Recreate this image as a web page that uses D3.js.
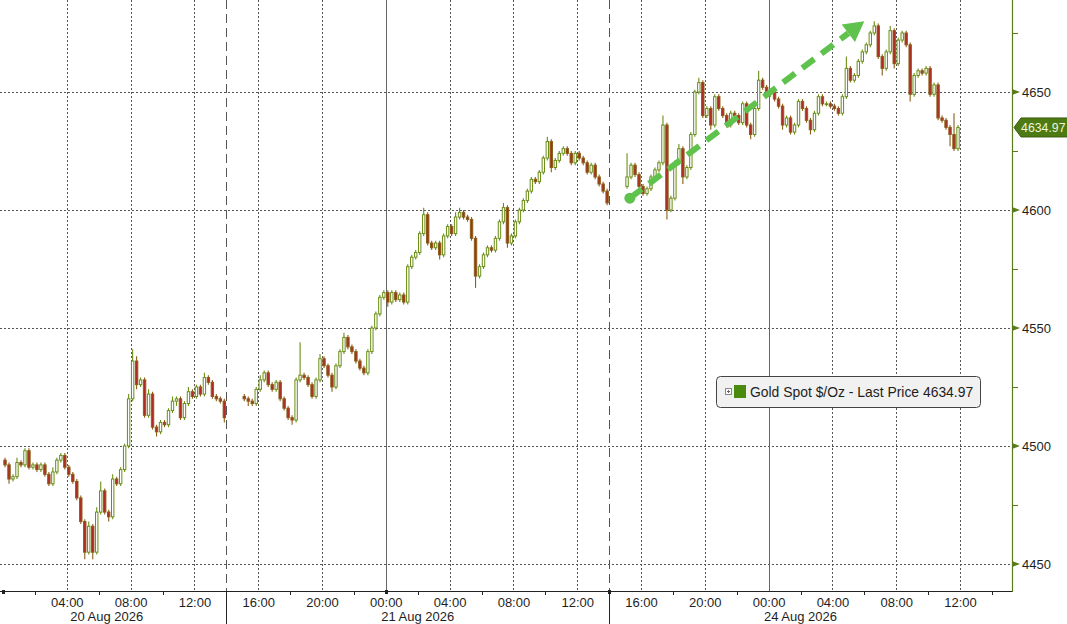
<!DOCTYPE html>
<html><head><meta charset="utf-8">
<script src="https://cdn.jsdelivr.net/npm/d3@7"></script>
<style>html,body{margin:0;padding:0;background:#fff;overflow:hidden}</style>
</head><body><svg id="c" width="1067" height="624"></svg>
<script>
// ---------- DATA ----------
// Session start (hours on the compressed time axis, 0 = 20 Aug 00:00), 15-minute candles
const sessionStartHours = [0, 15, 39];
const sessionFirstOpen = [4494, 4521, 4610];

const s1Close = [4492,4486,4487,4493,4492,4498,4491,4492,4490,4492,
                 4488,4484,4489,4494,4496,4491,4488,4485,4478,4468,
                 4455,4466,4455,4472,4481,4472,4470,4486,4484,4490,
                 4500,4520,4536,4526,4528,4513,4522,4508,4506,4510,
                 4509,4515,4519,4520,4512,4518,4523,4521,4525,4522,
                 4529,4527,4521,4520,4519,4512];
const s1WickUp = [1,1,1,2,1,1,1,1,1,1, 1,1,2,1,1,1,1,1,1,1, 1,2,1,2,4,1,1,2,1,1,
                  1,2,5,2,1,1,2,1,1,1, 1,1,2,1,1,1,2,1,1,1, 2,1,1,1,1,1];
const s1WickDn = [1,2,1,1,1,1,1,1,1,1, 1,1,1,1,1,1,1,1,1,1, 3,1,3,1,1,1,2,1,1,1,
                  1,1,1,2,1,1,1,1,2,1, 1,1,1,2,1,1,1,1,1,1, 1,1,1,1,1,2];

const s2Close = [4520,4519,4518,4524,4528,4531,4526,4524,4527,4520,
                 4516,4512,4511,4528,4530,4529,4526,4521,4528,4537,
                 4534,4530,4525,4534,4540,4546,4542,4540,4536,4533,
                 4531,4540,4550,4556,4563,4565,4561,4565,4562,4564,
                 4561,4576,4580,4582,4590,4598,4586,4584,4586,4581,
                 4589,4593,4590,4597,4599,4597,4596,4588,4572,4576,
                 4581,4584,4583,4588,4595,4601,4586,4589,4595,4600,
                 4604,4608,4613,4612,4616,4622,4629,4618,4621,4624,
                 4626,4624,4620,4624,4622,4620,4616,4619,4614,4611,
                 4608,4603];
const s2WickUp = [1,1,1,1,2,1,1,1,1,1, 1,1,1,1,14,1,1,1,1,2, 1,1,1,1,1,2,1,1,1,1,
                  1,1,1,1,1,1,1,1,1,1, 1,1,1,1,1,3,1,1,1,1, 1,1,1,2,2,1,1,1,1,1,
                  1,1,1,1,1,2,1,1,1,1, 1,1,1,1,1,1,2,1,1,1, 1,1,1,1,1,1,1,1,1,1, 1,1];
const s2WickDn = [1,2,1,1,1,1,1,1,1,1, 1,1,2,1,1,1,1,1,1,1, 1,1,2,1,1,1,1,1,1,1,
                  1,1,1,1,1,1,2,1,1,1, 1,1,1,1,1,1,1,1,1,2, 1,1,1,1,1,1,1,1,5,1,
                  1,1,1,1,1,1,2,1,1,1, 1,1,1,1,1,1,1,2,1,1, 1,1,1,1,1,1,1,1,1,1, 1,1];

const s3Close = [4614,4619,4615,4610,4607,4609,4614,4617,4620,4636,
                 4600,4605,4620,4626,4614,4618,4632,4650,4654,4640,
                 4643,4636,4648,4643,4640,4636,4641,4640,4637,4645,
                 4636,4632,4643,4655,4652,4649,4650,4647,4644,4636,
                 4639,4633,4636,4646,4643,4638,4634,4641,4648,4645,
                 4645,4644,4643,4641,4648,4660,4655,4657,4663,4667,
                 4670,4675,4678,4665,4660,4667,4676,4662,4672,4675,
                 4670,4649,4657,4659,4658,4660,4649,4653,4639,4638,
                 4635,4632,4626,4634.97];
const s3WickUp = [10,1,1,1,1,1,1,1,1,4, 1,1,1,2,1,1,1,1,2,1, 1,1,1,1,1,1,1,1,1,1,
                  1,1,1,4,1,1,1,1,1,1, 1,1,1,1,1,1,1,1,1,1, 1,1,1,1,1,5,1,1,1,1,
                  1,1,2,1,1,1,2,1,1,1, 1,1,1,1,1,1,1,1,1,1, 1,1,9,1];
const s3WickDn = [1,1,1,1,1,1,1,1,1,1, 4,1,1,1,3,1,1,1,1,1, 1,2,1,1,1,1,1,1,1,1,
                  1,2,1,1,1,1,1,1,1,2, 1,1,1,1,1,1,2,1,1,1, 1,1,1,1,1,1,1,1,1,1,
                  1,1,1,1,3,1,1,2,1,1, 1,3,1,1,1,1,1,1,1,1, 1,5,1,1];

const xTickHours  = [4,8,12,16,20,24,28,32,36,40,44,48,52,56,60];
const xTickLabels = ["04:00","08:00","12:00","16:00","20:00","00:00","04:00","08:00","12:00","16:00","20:00","00:00","04:00","08:00","12:00"];
const dayBoundaryHours = [24, 48];
const sessionBreakHours = [14, 38];
const dayStartHours = [0, 24, 38];
const dateLabelHours = [6.5, 26, 50];
const dateLabels = ["20 Aug 2026", "21 Aug 2026", "24 Aug 2026"];
const yTicks = [4450, 4500, 4550, 4600, 4650];
const yMinorTicks = [4475, 4525, 4575, 4625, 4675];
const lastPrice = 4634.97;
const legendLabel = "Gold Spot $/Oz - Last Price 4634.97";
const trendStart = {h: 39.3, v: 4605};
const trendEnd = {h: 54.0, v: 4680};

// ---------- BUILD ----------
const closes = [s1Close, s2Close, s3Close];
const wUps = [s1WickUp, s2WickUp, s3WickUp];
const wDns = [s1WickDn, s2WickDn, s3WickDn];
const candles = [];
closes.forEach((arr, s) => {
  arr.forEach((c, i) => {
    const o = i === 0 ? sessionFirstOpen[s] : arr[i-1];
    candles.push({t: sessionStartHours[s] + i*0.25 + 0.125, o, c,
      h: Math.max(o,c) + wUps[s][i], l: Math.min(o,c) - wDns[s][i]});
  });
});

const svg = d3.select("#c");
const plotR = 1012, plotB = 591;
const x = d3.scaleLinear().domain([-0.19, 63.26]).range([0, plotR]);
const y = d3.scaleLinear().domain([4438.56, 4688.98]).range([plotB, 0]);
const FONT = "'Liberation Sans', Arial, sans-serif";
const TXT = "#1e1e1e";

// grid
const g = svg.append("g");
g.selectAll(".vg").data(xTickHours.filter(h => !dayBoundaryHours.includes(h))).join("line")
  .attr("x1", d => Math.round(x(d))+0.5).attr("x2", d => Math.round(x(d))+0.5)
  .attr("y1", 0).attr("y2", plotB)
  .attr("stroke", "#555").attr("stroke-dasharray", "2,2").attr("stroke-width", 1);
g.selectAll(".hg").data(yTicks).join("line")
  .attr("x1", 0).attr("x2", plotR)
  .attr("y1", d => Math.round(y(d))+0.5).attr("y2", d => Math.round(y(d))+0.5)
  .attr("stroke", "#555").attr("stroke-dasharray", "2,2").attr("stroke-width", 1);
g.selectAll(".dl").data(dayBoundaryHours).join("line")
  .attr("x1", d => Math.round(x(d))+0.5).attr("x2", d => Math.round(x(d))+0.5)
  .attr("y1", 0).attr("y2", plotB).attr("stroke", "#666").attr("stroke-width", 1);
g.selectAll(".sb").data(sessionBreakHours).join("line")
  .attr("x1", d => Math.round(x(d))+0.5).attr("x2", d => Math.round(x(d))+0.5)
  .attr("y1", 0).attr("y2", plotB).attr("stroke", "#555").attr("stroke-width", 1)
  .attr("stroke-dasharray", "9,5");

// candles
const UPC = "#6a8e16", DNF = "#b02a26", DNS = "#8a5e18";
const cw = (x(0.25) - x(0)) * 0.6;
const cg = svg.append("g");
cg.selectAll("line").data(candles).join("line")
  .attr("x1", d => x(d.t)).attr("x2", d => x(d.t))
  .attr("y1", d => y(d.h)).attr("y2", d => y(d.l))
  .attr("stroke", d => d.c >= d.o ? UPC : DNS).attr("stroke-width", 1.1);
cg.selectAll("rect").data(candles).join("rect")
  .attr("x", d => x(d.t) - cw/2).attr("width", cw)
  .attr("y", d => y(Math.max(d.o, d.c)))
  .attr("height", d => Math.max(0.8, Math.abs(y(d.o) - y(d.c))))
  .attr("fill", d => d.c >= d.o ? "#ffffff" : DNF)
  .attr("stroke", d => d.c >= d.o ? UPC : DNS).attr("stroke-width", 1);

// trend arrow
const p0 = [x(trendStart.h), y(trendStart.v)], p1 = [x(trendEnd.h), y(trendEnd.v)];
const ang = Math.atan2(p1[1]-p0[1], p1[0]-p0[0]);
const headL = 20, headW = 11;
const base = [p1[0] - headL*Math.cos(ang), p1[1] - headL*Math.sin(ang)];
const ARW = "#5fc24d";
svg.append("line").attr("x1", p0[0]).attr("y1", p0[1]).attr("x2", base[0]).attr("y2", base[1])
  .attr("stroke", ARW).attr("stroke-width", 6).attr("stroke-dasharray", "15,9");
svg.append("circle").attr("cx", p0[0]).attr("cy", p0[1]).attr("r", 5.5).attr("fill", ARW);
const nx = -Math.sin(ang), ny = Math.cos(ang);
svg.append("path").attr("fill", ARW).attr("d",
  `M${p1[0]},${p1[1]}L${base[0]+nx*headW},${base[1]+ny*headW}L${base[0]-nx*headW},${base[1]-ny*headW}Z`);

// bottom axis
const ax = svg.append("g").attr("transform", `translate(0,${plotB})`)
  .call(d3.axisBottom(x).tickValues(xTickHours).tickFormat((d,i) => xTickLabels[i]).tickSize(0).tickPadding(4));
ax.select(".domain").remove();
ax.selectAll("text").attr("font-family", FONT).attr("font-size", 13).attr("fill", TXT).attr("dy", "0.95em");
svg.append("line").attr("x1", 0).attr("x2", plotR+1).attr("y1", plotB+0.5).attr("y2", plotB+0.5)
  .attr("stroke", "#222").attr("stroke-width", 1);
const minorX = d3.range(2, 63, 4).filter(h => !sessionBreakHours.includes(h));
svg.selectAll(".mx").data(minorX).join("line")
  .attr("x1", d => Math.round(x(d))+0.5).attr("x2", d => Math.round(x(d))+0.5)
  .attr("y1", plotB).attr("y2", plotB+4).attr("stroke", "#222");
svg.selectAll(".ds").data(dayStartHours).join("rect")
  .attr("x", d => Math.round(x(d))-1).attr("y", plotB-1).attr("width", 3).attr("height", 4).attr("fill", "#222");
svg.selectAll(".sbl").data(sessionBreakHours).join("line")
  .attr("x1", d => Math.round(x(d))+0.5).attr("x2", d => Math.round(x(d))+0.5)
  .attr("y1", plotB).attr("y2", 624).attr("stroke", "#222");
svg.selectAll(".dlab").data(dateLabels).join("text")
  .attr("x", (d,i) => x(dateLabelHours[i])).attr("y", 621)
  .attr("text-anchor", "middle").attr("font-family", FONT).attr("font-size", 13).attr("fill", TXT).text(d => d);

// right axis
const AXC = "#5b7b1b";
svg.append("line").attr("x1", plotR+0.5).attr("x2", plotR+0.5).attr("y1", 0).attr("y2", plotB+1)
  .attr("stroke", AXC).attr("stroke-width", 1.2);
const ay = svg.append("g").attr("transform", `translate(${plotR},0)`)
  .call(d3.axisRight(y).tickValues(yTicks).tickFormat(d3.format("d")).tickSize(0).tickPadding(10));
ay.select(".domain").remove();
ay.selectAll("text").attr("font-family", FONT).attr("font-size", 13).attr("fill", TXT);
svg.selectAll(".tri").data(yTicks).join("path").attr("fill", AXC)
  .attr("d", d => { const yy = y(d); return `M${plotR},${yy-3}L${plotR+8},${yy}L${plotR},${yy+3}Z`; });
svg.selectAll(".my").data(yMinorTicks).join("line")
  .attr("x1", plotR).attr("x2", plotR+6)
  .attr("y1", d => Math.round(y(d))+0.5).attr("y2", d => Math.round(y(d))+0.5).attr("stroke", AXC);

// last price tag
const ly = y(lastPrice);
svg.append("path").attr("fill", "#4d7a12").attr("stroke", "#3b5e0c").attr("stroke-width", 1)
  .attr("d", `M${plotR+2},${ly}L${plotR+9},${ly-9.5}L1068,${ly-9.5}L1068,${ly+9.5}L${plotR+9},${ly+9.5}Z`);
svg.append("text").attr("x", 1065.5).attr("y", ly+4.5).attr("text-anchor", "end")
  .attr("font-family", FONT).attr("font-size", 12.3)
  .attr("fill", "#eef5dc").text(d3.format(".2f")(lastPrice));

// legend
const lg = svg.append("g").attr("transform", "translate(716,376)");
lg.append("rect").attr("x", 0.5).attr("y", 0.5).attr("width", 264).attr("height", 31).attr("rx", 4)
  .attr("fill", "#f1f1f1").attr("stroke", "#444");
lg.append("rect").attr("x", 9.5).attr("y", 12.5).attr("width", 6).attr("height", 6).attr("fill", "#fff").attr("stroke", "#888");
lg.append("path").attr("d", "M11,15.5H14M12.5,14V17").attr("stroke", "#666").attr("stroke-width", 1);
lg.append("rect").attr("x", 18).attr("y", 9).attr("width", 12).attr("height", 13).attr("fill", "#4a8a0c");
lg.append("text").attr("x", 34).attr("y", 21).attr("font-family", FONT).attr("font-size", 13.9)
  .attr("fill", TXT).text(legendLabel);
</script></body></html>
